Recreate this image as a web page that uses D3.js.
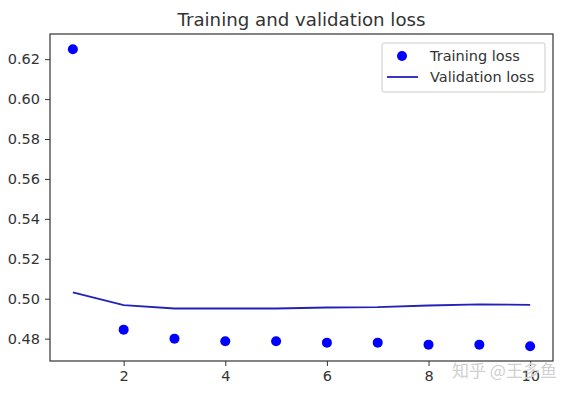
<!DOCTYPE html>
<html>
<head>
<meta charset="utf-8">
<script src="https://cdn.jsdelivr.net/npm/d3@7"></script>
<style>
  body { margin: 0; background: #fff; }
  text { font-family: "DejaVu Sans", sans-serif; fill: #333; }
</style>
</head>
<body>
<div class="chart"></div>
<script>
// values
var epochs = [1, 2, 3, 4, 5, 6, 7, 8, 9, 10];
var trainLoss = [0.625, 0.4845, 0.480, 0.4787, 0.4787, 0.478, 0.478, 0.477, 0.477, 0.4762];
var valLoss = [0.5032, 0.4968, 0.4951, 0.4951, 0.4951, 0.4956, 0.4958, 0.4966, 0.4972, 0.4969];
var xTicks = [2, 4, 6, 8, 10];
var yTicks = [0.48, 0.50, 0.52, 0.54, 0.56, 0.58, 0.60, 0.62];

var width = 571;
var height = 395;
var margin = {top: 34, right: 18, bottom: 34, left: 50};

var svg = d3.select(".chart").append("svg")
  .attr("width", width)
  .attr("height", height);

var x = d3.scaleLinear()
  .domain([0.55, 10.45])
  .range([margin.left, width - margin.right]);

var y = d3.scaleLinear()
  .domain([0.4688, 0.6326])
  .range([height - margin.bottom, margin.top]);

// axes
var xAxis = svg.append("g")
  .attr("transform", "translate(0," + (height - margin.bottom) + ")")
  .call(d3.axisBottom(x).tickValues(xTicks).tickSize(5).tickPadding(5).tickFormat(d3.format("d")));

var yAxis = svg.append("g")
  .attr("transform", "translate(" + margin.left + ",0)")
  .call(d3.axisLeft(y).tickValues(yTicks).tickSize(5).tickPadding(5).tickFormat(d3.format(".2f")));

[xAxis, yAxis].forEach(function(g) {
  g.select(".domain").remove();
  g.selectAll(".tick line").attr("stroke", "#333");
  g.selectAll(".tick text").style("font-size", "14.5px").attr("fill", "#333");
});

// frame
svg.append("rect")
  .attr("x", margin.left)
  .attr("y", margin.top)
  .attr("width", width - margin.left - margin.right)
  .attr("height", height - margin.top - margin.bottom)
  .attr("fill", "none")
  .attr("stroke", "#333")
  .attr("stroke-width", 1.2);

// validation line
var line = d3.line()
  .x(function(d, i) { return x(epochs[i]); })
  .y(function(d) { return y(d); });

svg.append("path")
  .datum(valLoss)
  .attr("d", line)
  .attr("fill", "none")
  .attr("stroke", "#2222b8")
  .attr("stroke-width", 1.8);

// training points
svg.selectAll("circle.train")
  .data(trainLoss)
  .enter().append("circle")
  .attr("class", "train")
  .attr("cx", function(d, i) { return x(epochs[i]); })
  .attr("cy", function(d) { return y(d); })
  .attr("r", 5)
  .attr("fill", "#0000ff");

// title
svg.append("text")
  .attr("x", (margin.left + width - margin.right) / 2)
  .attr("y", 26)
  .attr("text-anchor", "middle")
  .style("font-size", "18.2px")
  .text("Training and validation loss");

// legend
var legend = svg.append("g").attr("transform", "translate(382,43)");
legend.append("rect")
  .attr("width", 163)
  .attr("height", 49)
  .attr("rx", 2)
  .attr("fill", "#fff")
  .attr("stroke", "#ccc");
legend.append("circle")
  .attr("cx", 20).attr("cy", 13).attr("r", 5)
  .attr("fill", "#0000ff");
legend.append("line")
  .attr("x1", 5).attr("x2", 36).attr("y1", 34).attr("y2", 34)
  .attr("stroke", "#2222b8").attr("stroke-width", 1.8);
legend.append("text")
  .attr("x", 48).attr("y", 18)
  .style("font-size", "14.5px")
  .text("Training loss");
legend.append("text")
  .attr("x", 48).attr("y", 39)
  .style("font-size", "14.5px")
  .text("Validation loss");

// watermark (overlaps the last tick label, as in the reference)
svg.append("text")
  .attr("x", 452)
  .attr("y", 377)
  .style("font-family", "'Noto Sans CJK SC', sans-serif")
  .style("font-size", "17px")
  .style("fill", "#d0d0d0")
  .text("知乎 @王多鱼");
</script>
</body>
</html>
